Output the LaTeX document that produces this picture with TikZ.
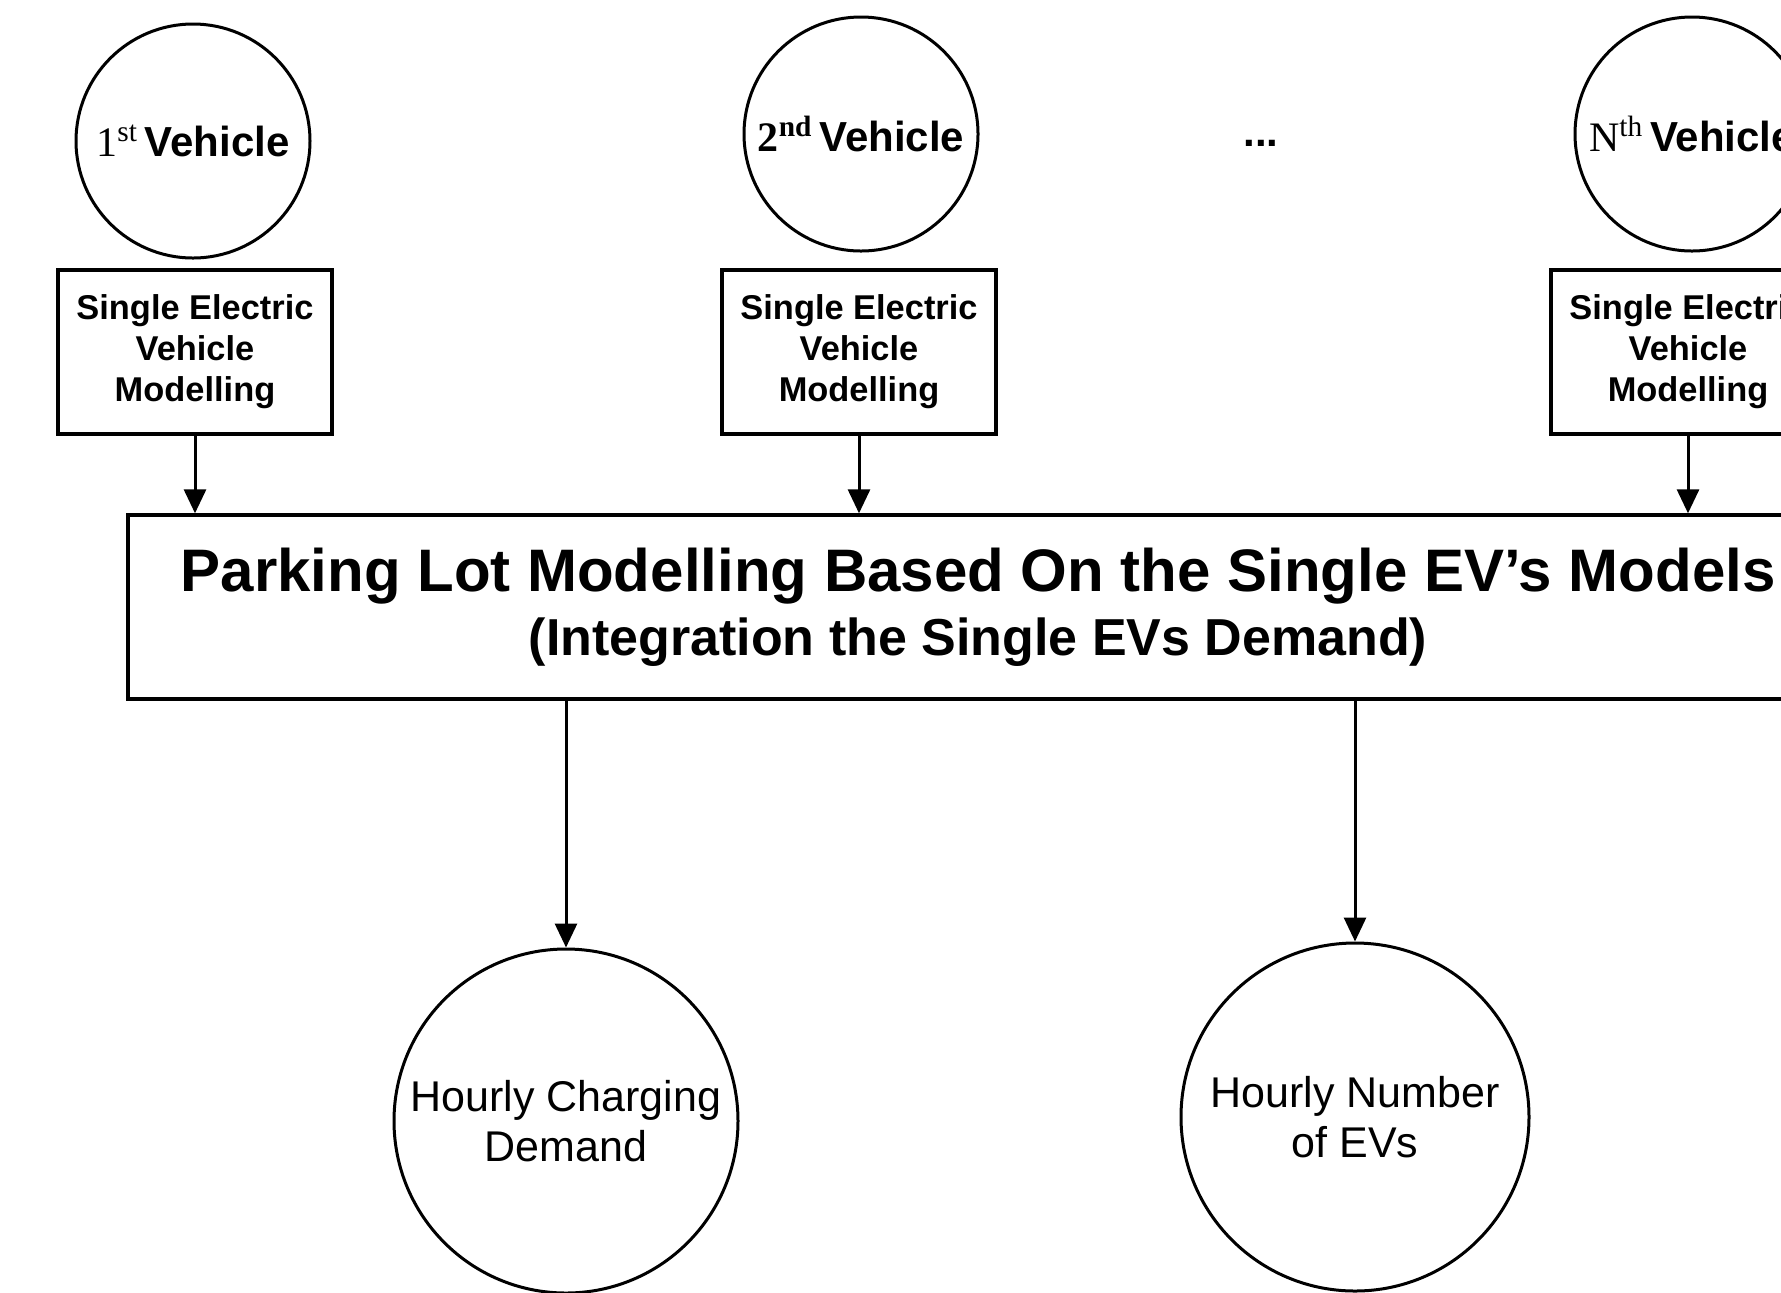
\documentclass[tikz,border=0pt]{standalone}
\usepackage{fontspec}
\setmainfont{Liberation Sans}
\newfontfamily\timesfont{Liberation Serif}
\usetikzlibrary{arrows.meta}

\begin{document}
\begin{tikzpicture}[x=0.5pt,y=-0.5pt,>={Triangle[width=11pt,length=12pt]},
  vehicle/.style={circle,draw,line width=1.5pt,minimum size=117pt,inner sep=0pt,
    font=\fontsize{21}{25}\selectfont\bfseries},
  single/.style={rectangle,draw,line width=1.7pt,minimum width=137pt,minimum height=82pt,
    inner sep=0pt,align=center,font=\fontsize{17.2}{20.5}\selectfont\bfseries},
  lot/.style={rectangle,draw,line width=1.7pt,minimum width=850pt,minimum height=92pt,
    inner sep=0pt,align=center},
  result/.style={circle,draw,line width=1.5pt,inner sep=0pt,align=center,
    font=\fontsize{21.5}{25}\selectfont},
  flow/.style={->,line width=1.5pt}]
\useasboundingbox (0,0) rectangle (1781,1292);
\clip (0,0) rectangle (1781,1292);

\node[vehicle] (v1) at (193,141) {{\timesfont\mdseries 1\textsuperscript{st}}\,Vehicle};
\node[vehicle] (v2) at (861,134) {{\timesfont 2\textsuperscript{nd}}\,Vehicle};
\node[font=\fontsize{21}{25}\selectfont\bfseries] (dots) at (1261,143) {...};
\node[vehicle] (vn) at (1692,134) {{\timesfont\mdseries N\textsuperscript{th}}\,Vehicle};

\node[single] (m1) at (195,352) {Single Electric\\Vehicle\\Modelling};
\node[single] (m2) at (859,352) {Single Electric\\Vehicle\\Modelling};
\node[single] (mn) at (1688,352) {Single Electric\\Vehicle\\Modelling};

\node[lot] (lot) at (978,607) {\fontsize{30}{36}\selectfont\bfseries
  Parking Lot Modelling Based On the Single EV’s Models\\[6pt]
  \fontsize{26}{32}\selectfont\bfseries (Integration the Single EVs Demand)};

\node[result,minimum size=172pt] (hcd) at (566,1121) {Hourly Charging\\Demand};
\node[result,minimum size=174pt] (hne) at (1355,1117) {Hourly Number\\of EVs};

\path[flow] (m1.south) edge (m1.south |- lot.north);
\path[flow] (m2.south) edge (m2.south |- lot.north);
\path[flow] (mn.south) edge (mn.south |- lot.north);
\path[flow] (hcd.north |- lot.south) edge (hcd.north);
\path[flow] (hne.north |- lot.south) edge (hne.north);
\end{tikzpicture}
\end{document}
